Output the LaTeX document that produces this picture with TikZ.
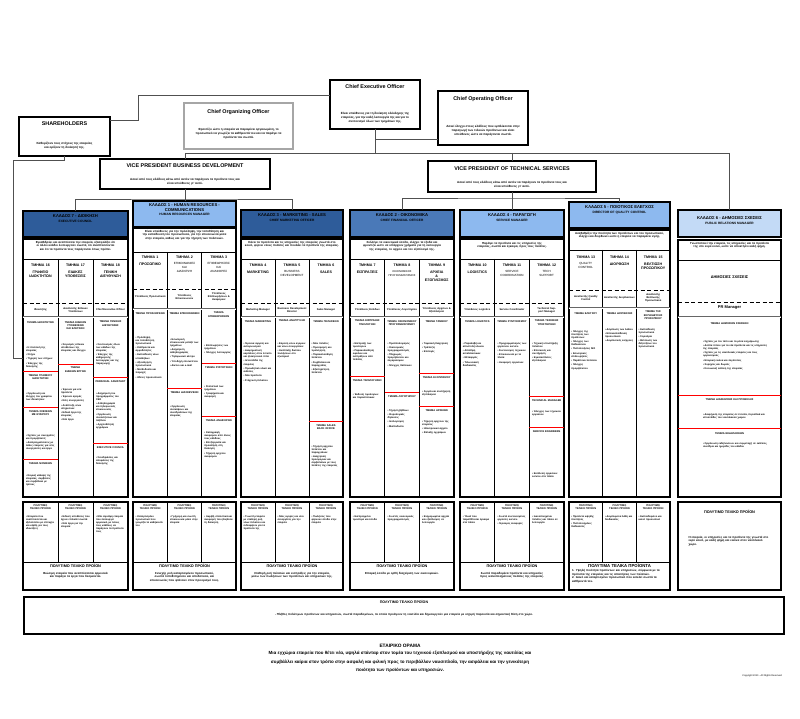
\documentclass[tikz,border=0pt]{standalone}
\usepackage{fontspec}
\setmainfont{Liberation Sans}
\usetikzlibrary{positioning,calc}
\definecolor{kldark}{HTML}{2E5C9A}
\definecolor{klmid}{HTML}{4A79B8}
\definecolor{kllight}{HTML}{8DB9EF}
\definecolor{klpale}{HTML}{C3DAF6}
\definecolor{linkgray}{HTML}{505050}
\tikzset{
	topbox/.style={draw, line width=1.3pt, fill=white, inner sep=0pt, outer sep=0pt, anchor=north west},
	link/.style={draw=linkgray, line width=0.8pt},
	boxtitle/.style={font=\fontsize{5.4}{6.4}\selectfont\bfseries, inner sep=0pt},
	boxtext/.style={font=\fontsize{3}{3.9}\selectfont\bfseries, align=center, inner sep=0pt},
	kladhead/.style={draw, line width=1.3pt, inner sep=0pt, outer sep=0pt, anchor=north west},
	kladtxt/.style={align=center, inner sep=0pt, font=\fontsize{4.2}{4.9}\selectfont\bfseries},
	kladbody/.style={draw, line width=1.3pt, fill=white, inner sep=0pt, outer sep=0pt, anchor=north west},
	gridline/.style={draw=black, line width=0.5pt},
	dashline/.style={draw=black, line width=0.8pt, dash pattern=on 4pt off 2.5pt},
	midline/.style={draw=black!60, line width=0.5pt, double=white, double distance=0.8pt},
	redline/.style={draw=red, line width=0.9pt},
	subhd/.style={anchor=north, align=center, inner sep=0pt, font=\fontsize{2.6}{3.1}\selectfont\bfseries},
	lst/.style={anchor=north, align=left, inner sep=0pt, font=\fontsize{2.5}{3.1}\selectfont\bfseries}
}
\newcounter{txt}
\newcommand{\shd}[4][31]{\stepcounter{txt}\node[subhd, text width=#1pt] (s\arabic{txt}) at (#2,#3) {#4};}
\newcommand{\bul}[4][29]{\stepcounter{txt}\node[lst, text width=#1pt] (l\arabic{txt}) at (#2,#3) {#4};}

\begin{document}
\begin{tikzpicture}[x=1pt, y=-1pt,
		dept/.style={anchor=north, align=center, text width=33pt, inner sep=0pt,
			font=\fontsize{3.6}{4.4}\selectfont\bfseries},
		mgr/.style={align=center, text width=32pt, inner sep=0pt,
			font=\fontsize{2.6}{3.2}\selectfont\bfseries},
		desc/.style={anchor=north, align=center, inner sep=0pt,
			font=\fontsize{2.9}{3.6}\selectfont\bfseries},
		prodhd/.style={anchor=north, align=center, inner sep=0pt,
			font=\fontsize{3.8}{4.6}\selectfont\bfseries},
		]
	\useasboundingbox[fill=white] (0,0) rectangle (800,719);
	
	%% -- top management
	\node[topbox, minimum width=91, minimum height=39] (share) at (19,117) {};
	\node[boxtitle, below=5pt of share.north] (shareT) {SHAREHOLDERS};
	\node[boxtext, above=7pt of share.south] (shareD)
	{Καθορίζουν τους στόχους της εταιρείας\\και ορίζουν τη διοίκησή της.};
	
	\node[topbox, minimum width=90, minimum height=49] (ceo) at (330,80) {};
	\node[boxtitle, below=4pt of ceo.north] (ceoT) {Chief Executive Officer};
	\node[boxtext, above=6pt of ceo.south] (ceoD)
	{Είναι υπεύθυνος για τη διοίκηση ολόκληρης της\\εταιρείας, για την καλή λειτουργία της και για το\\συντονισμό όλων των τμημάτων της.};
	
	\node[topbox, draw=black!35, minimum width=109, minimum height=46] (corg) at (184,103) {};
	\node[boxtitle, below=6pt of corg.north] (corgT) {Chief Organizing Officer};
	\node[boxtext, above=10pt of corg.south] (corgD)
	{Φροντίζει ώστε η εταιρεία να παραμένει οργανωμένη, το\\προσωπικό να γνωρίζει τα καθήκοντά του και να παράγει τα\\προϊόντα του σωστά.};
	
	\node[topbox, minimum width=90, minimum height=54] (coo) at (438,91) {};
	\node[boxtitle, below=5pt of coo.north] (cooT) {Chief Operating Officer};
	\node[boxtext, above=9pt of coo.south] (cooD)
	{Ασκεί έλεγχο στους κλάδους που εμπλέκονται στην\\παραγωγή των τελικών προϊόντων και είναι\\υπεύθυνος ώστε να παράγονται σωστά.};
	
	\node[topbox, minimum width=170, minimum height=30] (vpbd) at (100,159) {};
	\node[boxtitle, below=5pt of vpbd.north] (vpbdT) {VICE PRESIDENT BUSINESS DEVELOPMENT};
	\node[boxtext, above=4pt of vpbd.south] (vpbdD)
	{Ασκεί από τους κλάδους κάτω από αυτόν να παράγουν τα προϊόντα τους και\\είναι υπεύθυνος γι' αυτό.};
	
	\node[topbox, minimum width=168, minimum height=31] (vpts) at (428,161) {};
	\node[boxtitle, below=6pt of vpts.north] (vptsT) {VICE PRESIDENT OF TECHNICAL SERVICES};
	\node[boxtext, above=4pt of vpts.south] (vptsD)
	{Ασκεί από τους κλάδους κάτω από αυτόν να παράγουν τα προϊόντα τους και\\είναι υπεύθυνος γι' αυτό.};
	
	%% -- division headers
	\node[kladhead, fill=kldark, minimum width=105, minimum height=26] (h7) at (23,211) {};
	\node[kladtxt, below=3pt of h7.north] (h7t)
	{ΚΛΑΔΟΣ 7 - ΔΙΟΙΚΗΣΗ\\{\fontsize{3.2}{4}\selectfont EXECUTIVE COUNCIL}};
	\node[kladhead, fill=kllight, minimum width=103, minimum height=26] (h1) at (133,201) {};
	\node[kladtxt, below=2pt of h1.north] (h1t)
	{ΚΛΑΔΟΣ 1 - HUMAN RESOURCES -\\COMMUNICATIONS\\{\fontsize{3.2}{4}\selectfont HUMAN RESOURCES MANAGER}};
	\node[kladhead, fill=kldark, minimum width=102, minimum height=27] (h3) at (241,210) {};
	\node[kladtxt, below=3pt of h3.north] (h3t)
	{ΚΛΑΔΟΣ 3 - MARKETING - SALES\\{\fontsize{3.2}{4}\selectfont CHIEF MARKETING OFFICER}};
	\node[kladhead, fill=klmid, minimum width=104, minimum height=27] (h2) at (350,210) {};
	\node[kladtxt, below=3pt of h2.north] (h2t)
	{ΚΛΑΔΟΣ 2 - ΟΙΚΟΝΟΜΙΚΑ\\{\fontsize{3.2}{4}\selectfont CHIEF FINANCIAL OFFICER}};
	\node[kladhead, fill=kllight, minimum width=104, minimum height=27] (h4) at (460,210) {};
	\node[kladtxt, below=3pt of h4.north] (h4t)
	{ΚΛΑΔΟΣ 4 - ΠΑΡΑΓΩΓΗ\\{\fontsize{3.2}{4}\selectfont SERVICE MANAGER}};
	\node[kladhead, fill=kllight, minimum width=101, minimum height=26] (h5) at (569,202) {};
	\node[kladtxt, below=3pt of h5.north] (h5t)
	{ΚΛΑΔΟΣ 5 - ΠΟΙΟΤΙΚΟΣ ΕΛΕΓΧΟΣ\\{\fontsize{3.2}{4}\selectfont DIRECTOR OF QUALITY CONTROL}};
	\node[kladhead, fill=klpale, minimum width=103, minimum height=27] (h6) at (678,210) {};
	\node[kladtxt, below=6pt of h6.north] (h6t)
	{ΚΛΑΔΟΣ 6 - ΔΗΜΟΣΙΕΣ ΣΧΕΣΕΙΣ\\{\fontsize{3.2}{4}\selectfont PUBLIC RELATIONS MANAGER}};
	
	%% -- connectors
	\coordinate (shj) at (138,120);
	\coordinate (bus) at (375,153);
	\coordinate (cooj) at (375,139);
	\coordinate (shk) at (13,160);
	\coordinate (bdbus) at (185,199);
	\coordinate (tsbus) at (512,198);
	\draw[link] ([yshift=9.5pt]ceo.west) -| (shj) -- (shj -| share.east);
	\draw[link] (ceo.south) -- (bus);
	\draw[link] (cooj) -- (cooj -| coo.west);
	\draw[link] (vpbd.north |- bus) -- (h6.north |- bus);
	\draw[link] (vpbd.north |- bus) -- (vpbd.north);
	\draw[link] (vpts.north |- bus) -- (vpts.north);
	\draw[link] (h6.north |- bus) -- (h6.north);
	\draw[link] (vpbd.south) -- (vpbd.south |- h1.north);
	\draw[link] (h7.north) |- (bdbus) -| (h3.north);
	\draw[link] (vpts.south) -- (vpts.south |- h4.north);
	\draw[link] (h2.north) |- (tsbus) -| (h5.north);
	
	%% -- division bodies and product boxes
	\foreach \c/\xa/\xb/\yt/\yd/\ym/\ys in {7/23/128/239/259/303/317, 1/133/236/228/252/289/309,
		3/241/343/239/259/303/317, 2/350/454/239/259/303/317, 4/460/564/239/259/303/317,
		5/569/670/230/250/290/308}{
		\node[kladbody, minimum width=\xb-\xa, minimum height=497-\yt] (b\c) at (\xa,\yt) {};
		\draw[gridline] (\xa,\yd) -- (\xb,\yd);
		\draw[gridline] ({\xa+(\xb-\xa)/3},\yd) -- ({\xa+(\xb-\xa)/3},497);
		\draw[gridline] ({\xa+2*(\xb-\xa)/3},\yd) -- ({\xa+2*(\xb-\xa)/3},497);
		\draw[dashline] (\xa,\ym) -- (\xb,\ym);
		\draw[midline] (\xa,\ys) -- (\xb,\ys);
		\node[kladbody, minimum width=\xb-\xa, minimum height=88] (p\c) at (\xa,502) {};
		\draw[gridline] (\xa,562) -- (\xb,562);
		\draw[gridline] ({\xa+(\xb-\xa)/3},502) -- ({\xa+(\xb-\xa)/3},562);
		\draw[gridline] ({\xa+2*(\xb-\xa)/3},502) -- ({\xa+2*(\xb-\xa)/3},562);
	}
	\draw[link] (share.south) |- (shk) |- ([yshift=10pt]b7.west);
	
	\node[kladbody, minimum width=103, minimum height=257] (b6) at (678,240) {};
	\draw[gridline] ([yshift=-20pt]b6.north west) -- ([yshift=-20pt]b6.north east);
	\draw[dashline] ([yshift=-62pt]b6.north west) -- ([yshift=-62pt]b6.north east);
	\draw[midline] ([yshift=-77pt]b6.north west) -- ([yshift=-77pt]b6.north east);
	\node[kladbody, minimum width=103, minimum height=88] (p6) at (678,502) {};
	
	%% -- division descriptions
	\node[desc, text width=98pt, below=2pt of b7.north] (d7)
	{Εγκαθιδρύει και αναπτύσσει την εταιρεία, εξασφαλίζει ότι οι άλλοι κλάδοι λειτουργούν σωστά, ότι αναπτύσσονται και ότι τα προϊόντα τους παράγονται όπως πρέπει.};
	\node[desc, text width=97pt, below=2pt of b1.north] (d1)
	{Είναι υπεύθυνος για την πρόσληψη, την τοποθέτηση και την εκπαίδευση του προσωπικού, για την επικοινωνία μέσα στην εταιρεία, καθώς και για την τήρηση των πολιτικών.};
	\node[desc, text width=96pt, below=2pt of b3.north] (d3)
	{Κάνει τα προϊόντα και τις υπηρεσίες της εταιρείας γνωστά στο κοινό, φέρνει νέους πελάτες και πουλάει τα προϊόντα της εταιρείας.};
	\node[desc, text width=98pt, below=2pt of b2.north] (d2)
	{Συλλέγει τα οικονομικά έσοδα, ελέγχει τα έξοδα και φροντίζει ώστε να υπάρχουν χρήματα για τη λειτουργία της εταιρείας, το αρχείο και τον εξοπλισμό της.};
	\node[desc, text width=98pt, below=3pt of b4.north] (d4)
	{Παράγει τα προϊόντα και τις υπηρεσίες της εταιρείας, σωστά και έγκαιρα, προς τους πελάτες.};
	\node[desc, text width=95pt, below=2pt of b5.north] (d5)
	{Αναβαθμίζει την ποιότητα των προϊόντων και του προσωπικού, ελέγχει και διορθώνει ώστε η εταιρεία να παραμένει υγιής.};
	\node[desc, text width=95pt, below=2pt of b6.north] (d6)
	{Γνωστοποιεί την εταιρεία, τις υπηρεσίες και τα προϊόντα της στο ευρύ κοινό, ώστε να αποκτήσει καλή φήμη.};
	
	%% -- departments
	\node[dept] (t16) at (40.5,264) {ΤΜΗΜΑ 16\\[2pt]ΓΡΑΦΕΙΟ\\ΙΔΙΟΚΤΗΤΩΝ};
	\node[dept] (t17) at (75.5,264) {ΤΜΗΜΑ 17\\[2pt]ΕΙΔΙΚΕΣ\\ΥΠΟΘΕΣΕΙΣ};
	\node[dept] (t18) at (110.5,264) {ΤΜΗΜΑ 18\\[2pt]ΓΕΝΙΚΗ\\ΔΙΕΥΘΥΝΣΗ};
	\node[dept] (t1) at (150.2,256) {ΤΜΗΜΑ 1\\[2pt]ΠΡΟΣΩΠΙΚΟ};
	\node[dept] (t2) at (184.5,256) {ΤΜΗΜΑ 2\\[2pt]\mdseries\fontsize{3}{3.7}\selectfont ΕΠΙΚΟΙΝΩΝΙΕΣ\\ΚΑΙ\\ΔΙΑΣΚΕΨΗ};
	\node[dept] (t3) at (218.8,256) {ΤΜΗΜΑ 3\\[2pt]\mdseries\fontsize{3}{3.7}\selectfont ΕΠΙΘΕΩΡΗΣΕΙΣ\\ΚΑΙ\\ΑΝΑΦΟΡΕΣ};
	\node[dept] (t4) at (258,264) {ΤΜΗΜΑ 4\\[2pt]MARKETING};
	\node[dept] (t5) at (292,264) {ΤΜΗΜΑ 5\\[2pt]\mdseries\fontsize{3}{3.7}\selectfont BUSINESS\\DEVELOPMENT};
	\node[dept] (t6) at (326,264) {ΤΜΗΜΑ 6\\[2pt]SALES};
	\node[dept] (t7) at (367.3,264) {ΤΜΗΜΑ 7\\[2pt]ΕΙΣΠΡΑΞΕΙΣ};
	\node[dept] (t8) at (402,264) {ΤΜΗΜΑ 8\\[2pt]\mdseries\fontsize{2.7}{3.4}\selectfont ΟΙΚΟΝΟΜΙΚΟΣ\\ΠΡΟΓΡΑΜΜΑΤΙΣΜΟΣ};
	\node[dept] (t9) at (436.7,264) {ΤΜΗΜΑ 9\\[2pt]ΑΡΧΕΙΑ\\\&\\ΕΞΟΠΛΙΣΜΟΣ};
	\node[dept] (t10) at (477.3,264) {ΤΜΗΜΑ 10\\[2pt]LOGISTICS};
	\node[dept] (t11) at (512,264) {ΤΜΗΜΑ 11\\[2pt]\mdseries\fontsize{3}{3.7}\selectfont SERVICE\\COORDINATION};
	\node[dept] (t12) at (546.7,264) {ΤΜΗΜΑ 12\\[2pt]\mdseries\fontsize{3}{3.7}\selectfont TECH\\SUPPORT};
	\node[dept] (t13) at (585.8,256) {ΤΜΗΜΑ 13\\[2pt]\mdseries\fontsize{3}{3.7}\selectfont QUALITY\\CONTROL};
	\node[dept] (t14) at (619.5,256) {ΤΜΗΜΑ 14\\[2pt]ΔΙΟΡΘΩΣΗ};
	\node[dept] (t15) at (653.2,256) {ΤΜΗΜΑ 15\\[2pt]ΒΕΛΤΙΩΣΗ\\ΠΡΟΣΩΠΙΚΟΥ};
	\node[dept, text width=90pt, font=\fontsize{3.9}{4.6}\selectfont\bfseries] (tpr) at (729.5,276) {ΔΗΜΟΣΙΕΣ ΣΧΕΣΕΙΣ};
	
	%% -- managers
	\node[mgr] (m16) at (40.5,310) {Ιδιοκτήτης};
	\node[mgr] (m17) at (75.5,310) {Διευθυντής Ειδικών\\Υποθέσεων};
	\node[mgr] (m18) at (110.5,310) {Chief Executive Officer};
	\node[mgr] (m1) at (150.2,297) {Υπεύθυνος Προσωπικού};
	\node[mgr] (m2) at (184.5,297) {Υπεύθυνος\\Επικοινωνιών};
	\node[mgr] (m3) at (218.8,297) {Υπεύθυνος\\Επιθεωρήσεων \&\\Αναφορών};
	\node[mgr] (m4) at (258,310) {Marketing Manager};
	\node[mgr] (m5) at (292,310) {Business Development\\Director};
	\node[mgr] (m6) at (326,310) {Sales Manager};
	\node[mgr] (m7) at (367.3,310) {Υπεύθυνος Εσόδων};
	\node[mgr] (m8) at (402,310) {Υπεύθυνος Λογιστηρίου};
	\node[mgr] (m9) at (436.7,310) {Υπεύθυνος Αρχείων \&\\Εξοπλισμού};
	\node[mgr] (m10) at (477.3,310) {Υπεύθυνος Logistics};
	\node[mgr] (m11) at (512,310) {Service Coordinator};
	\node[mgr] (m12) at (546.7,310) {Technical Support Manager};
	\node[mgr] (m13) at (585.8,298) {Διευθυντής Quality\\Control};
	\node[mgr] (m14) at (619.5,298) {Διευθυντής Διορθώσεων};
	\node[mgr] (m15) at (653.2,298) {Διευθυντής\\Βελτίωσης\\Προσωπικού};
	\node[mgr, text width=80pt, font=\fontsize{4}{4.8}\selectfont\bfseries] (mpr) at (729.5,308) {PR Manager};
	
	%% -- ΚΛΑΔΟΣ 7 sections
	\shd{40.5}{321}{ΤΜΗΜΑ ΙΔΙΟΚΤΗΤΩΝ}
	\bul{40.5}{346}{• Η πολιτική της εταιρείας\\[1.2pt]• Στόχοι\\[1.2pt]• Τήρηση των στόχων\\[1.2pt]• Έλεγχος της διοίκησης}
	\draw[redline] (23,371) -- (58,371);
	\shd{40.5}{374}{ΤΜΗΜΑ ΓΡΑΦΕΙΟΥ ΙΔΙΟΚΤΗΤΩΝ}
	\bul{40.5}{392}{• Οργάνωση και έλεγχος του γραφείου των ιδιοκτητών}
	\draw[redline] (23,407) -- (58,407);
	\shd{40.5}{410}{ΤΜΗΜΑ ΣΧΕΣΕΩΝ ΜΕ ΕΤΑΙΡΟΥΣ}
	\bul{40.5}{434}{• Σχέσεις με συνεργάτες και προμηθευτές\\[1.2pt]• Διαπραγματεύσεις με άλλες εταιρείες για νέες συνεργασίες και έργα}
	\draw[redline] (23,459) -- (58,459);
	\shd{40.5}{462}{ΤΜΗΜΑ ΝΟΜΙΚΩΝ}
	\bul{40.5}{474}{• Νομική κάλυψη της εταιρείας, συμβάσεις και συμβόλαια με τρίτους}
	
	\shd{75.5}{321}{ΤΜΗΜΑ ΕΙΔΙΚΩΝ ΥΠΟΘΕΣΕΩΝ ΚΑΙ ΕΛΕΓΧΩΝ}
	\bul{75.5}{343}{• Χειρισμός ειδικών υποθέσεων της εταιρείας και έλεγχοι}
	\draw[redline] (58,364) -- (93,364);
	\shd{75.5}{367}{ΤΜΗΜΑ ΕΙΔΙΚΩΝ ΕΡΓΩΝ}
	\bul{75.5}{388}{• Έρευνα για νέα προϊόντα\\[1.2pt]• Έρευνα αγοράς\\[1.2pt]• Νέες συνεργασίες\\[1.2pt]• Ανάπτυξη νέων υπηρεσιών\\[1.2pt]• Ειδικά έργα της εταιρείας\\[1.2pt]• Νέα έργα}
	
	\shd{110.5}{321}{ΤΜΗΜΑ ΓΕΝΙΚΗΣ ΔΙΕΥΘΥΝΣΗΣ}
	\bul{110.5}{343}{• Συντονισμός όλων των κλάδων της εταιρείας\\[1.2pt]• Έλεγχος της καθημερινής λειτουργίας και της παραγωγής}
	\draw[redline] (93,377) -- (128,377);
	\shd{110.5}{380}{PERSONAL ASSISTANT}
	\bul{110.5}{392}{• Διαχείριση του προγράμματος του CEO\\[1.2pt]• Αλληλογραφία και τηλεφωνικές επικοινωνίες\\[1.2pt]• Οργάνωση συναντήσεων και ταξιδιών\\[1.2pt]• Αρχειοθέτηση εγγράφων}
	\draw[redline] (93,443) -- (128,443);
	\shd{110.5}{446}{EXECUTIVE COUNCIL}
	\bul{110.5}{456}{• Συνεδριάσεις και αποφάσεις της διοίκησης}
	
	%% -- ΚΛΑΔΟΣ 1 sections
	\shd{150.2}{312}{ΤΜΗΜΑ ΠΡΟΣΛΗΨΕΩΝ}
	\bul{150.2}{336}{• Πρόσληψη και τοποθέτηση προσωπικού\\[1.2pt]• Καθήκοντα και αρμοδιότητες\\[1.2pt]• Εκπαίδευση νέων υπαλλήλων\\[1.2pt]• Αξιολόγηση προσωπικού\\[1.2pt]• Μισθοδοσία και παροχές\\[1.2pt]• Άδειες προσωπικού}
	\shd{184.5}{312}{ΤΜΗΜΑ ΕΠΙΚΟΙΝΩΝΙΩΝ}
	\bul{184.5}{338}{• Εσωτερική επικοινωνία μεταξύ των τμημάτων\\[1.2pt]• Διαχείριση αλληλογραφίας\\[1.2pt]• Τηλεφωνικό κέντρο\\[1.2pt]• Υποδοχή επισκεπτών\\[1.2pt]• Δίκτυο και e-mail}
	\draw[redline] (167.3,388) -- (201.7,388);
	\shd{184.5}{391}{ΤΜΗΜΑ ΔΙΑΣΚΕΨΕΩΝ}
	\bul{184.5}{405}{• Οργάνωση συσκέψεων και συνεδριάσεων της εταιρείας}
	\shd{218.8}{312}{ΤΜΗΜΑ ΕΠΙΘΕΩΡΗΣΕΩΝ}
	\bul{218.8}{344}{• Επιθεωρήσεις των τμημάτων\\[1.2pt]• Έλεγχος λειτουργίας}
	\draw[redline] (201.7,363) -- (236,363);
	\shd{218.8}{366}{ΤΜΗΜΑ ΣΤΑΤΙΣΤΙΚΩΝ}
	\bul{218.8}{385}{• Στατιστικά των τμημάτων\\[1.2pt]• Γραφήματα και αναφορές}
	\draw[redline] (201.7,416) -- (236,416);
	\shd{218.8}{419}{ΤΜΗΜΑ ΑΝΑΦΟΡΩΝ}
	\bul{218.8}{431}{• Καταγραφή αναφορών από όλους τους κλάδους\\[1.2pt]• Επεξεργασία και προώθηση στη διοίκηση\\[1.2pt]• Τήρηση αρχείου αναφορών}
	
	%% -- ΚΛΑΔΟΣ 3 sections
	\shd{258}{320}{ΤΜΗΜΑ MARKETING}
	\bul{258}{342}{• Έρευνα αγοράς και ανταγωνισμού\\[1.2pt]• Διαφημιστικές καμπάνιες στον έντυπο και ηλεκτρονικό τύπο\\[1.2pt]• Ιστοσελίδα της εταιρείας\\[1.2pt]• Προωθητικό υλικό και εκθέσεις\\[1.2pt]• Νέα προϊόντα\\[1.2pt]• Στόχευση πελατών}
	\shd{292}{320}{ΤΜΗΜΑ ΑΝΑΠΤΥΞΗΣ}
	\bul{292}{342}{• Εύρεση νέων αγορών και νέων συνεργατών\\[1.2pt]• Ανάπτυξη δικτύου πωλήσεων στο εξωτερικό}
	\shd{326}{320}{ΤΜΗΜΑ ΠΩΛΗΣΕΩΝ}
	\bul{326}{342}{• Νέοι πελάτες\\[1.2pt]• Προσφορές και τιμολόγηση\\[1.2pt]• Παρακολούθηση πελατών\\[1.2pt]• Συμβόλαια και παραγγελίες\\[1.2pt]• Εξυπηρέτηση πελατών}
	\draw[redline] (309,421) -- (343,421);
	\shd{326}{424}{ΤΜΗΜΑ SALES BACK OFFICE}
	\bul{326}{445}{• Τήρηση αρχείου πελατών και παραγγελιών\\[1.2pt]• Διαχείριση προσφορών και συμβολαίων με τους πελάτες της εταιρείας}
	
	%% -- ΚΛΑΔΟΣ 2 sections
	\shd{367.3}{320}{ΤΜΗΜΑ ΕΙΣΠΡΑΞΗΣ ΤΙΜΟΛΟΓΙΩΝ}
	\bul{367.3}{342}{• Είσπραξη των τιμολογίων\\[1.2pt]• Παρακολούθηση οφειλών και εισπράξεων από πελάτες}
	\draw[redline] (350,376) -- (384.7,376);
	\shd{367.3}{379}{ΤΜΗΜΑ ΤΙΜΟΛΟΓΗΣΗΣ}
	\bul{367.3}{393}{• Έκδοση τιμολογίων και παραστατικών}
	\shd{402}{320}{ΤΜΗΜΑ ΟΙΚΟΝΟΜΙΚΟΥ ΠΡΟΓΡΑΜΜΑΤΙΣΜΟΥ}
	\bul{402}{342}{• Προϋπολογισμός\\[1.2pt]• Οικονομικός προγραμματισμός\\[1.2pt]• Πληρωμές προμηθευτών και λογαριασμών\\[1.2pt]• Έλεγχος δαπανών}
	\draw[redline] (384.7,392) -- (419.3,392);
	\shd{402}{395}{ΤΜΗΜΑ ΛΟΓΙΣΤΗΡΙΟΥ}
	\bul{402}{409}{• Τήρηση βιβλίων\\[1.2pt]• Φορολογικές δηλώσεις\\[1.2pt]• Ισολογισμός\\[1.2pt]• Μισθοδοσία}
	\shd{436.7}{320}{ΤΜΗΜΑ ΤΑΜΕΙΟΥ}
	\bul{436.7}{342}{• Ταμειακή διαχείριση\\[1.2pt]• Τράπεζες\\[1.2pt]• Επιταγές}
	\draw[redline] (419.3,373) -- (454,373);
	\shd{436.7}{376}{ΤΜΗΜΑ ΕΞΟΠΛΙΣΜΟΥ}
	\bul{436.7}{390}{• Αγορά και συντήρηση εξοπλισμού}
	\draw[redline] (419.3,406) -- (454,406);
	\shd{436.7}{409}{ΤΜΗΜΑ ΑΡΧΕΙΩΝ}
	\bul{436.7}{420}{• Τήρηση αρχείων της εταιρείας\\[1.2pt]• Ηλεκτρονικό αρχείο\\[1.2pt]• Φύλαξη εγγράφων}
	
	%% -- ΚΛΑΔΟΣ 4 sections
	\shd{477.3}{320}{ΤΜΗΜΑ LOGISTICS}
	\bul{477.3}{342}{• Παραλαβή και αποστολή υλικών\\[1.2pt]• Αποθήκη ανταλλακτικών\\[1.2pt]• Μεταφορές\\[1.2pt]• Τελωνειακές διαδικασίες}
	\shd{512}{320}{ΤΜΗΜΑ ΣΥΝΤΟΝΙΣΜΟΥ}
	\bul{512}{342}{• Προγραμματισμός των εργασιών service\\[1.2pt]• Συντονισμός τεχνικών\\[1.2pt]• Επικοινωνία με τα πλοία\\[1.2pt]• Αναφορές εργασιών}
	\shd{546.7}{320}{ΤΜΗΜΑ ΤΕΧΝΙΚΗΣ ΥΠΟΣΤΗΡΙΞΗΣ}
	\bul{546.7}{342}{• Τεχνική υποστήριξη πελατών\\[1.2pt]• Επισκευές και συντήρηση\\[1.2pt]• Εγκαταστάσεις εξοπλισμού}
	\draw[redline] (529.3,396) -- (564,396);
	\shd{546.7}{399}{TECHNICAL MANAGER}
	\bul{546.7}{410}{• Έλεγχος των τεχνικών εργασιών}
	\draw[redline] (529.3,427) -- (564,427);
	\shd{546.7}{430}{SERVICE ENGINEERS}
	\bul{546.7}{472}{• Εκτέλεση εργασιών service στα πλοία}
	
	%% -- ΚΛΑΔΟΣ 5 sections
	\shd{585.8}{312}{ΤΜΗΜΑ ΕΛΕΓΧΟΥ}
	\bul{585.8}{330}{• Έλεγχος της ποιότητας των προϊόντων\\[1.2pt]• Έλεγχος των διαδικασιών\\[1.2pt]• Πιστοποιήσεις ISO\\[1.2pt]• Εσωτερικές επιθεωρήσεις\\[1.2pt]• Παράπονα πελατών\\[1.2pt]• Έλεγχος προμηθευτών}
	\shd{619.5}{312}{ΤΜΗΜΑ ΔΙΟΡΘΩΣΗΣ}
	\bul{619.5}{328}{• Διόρθωση των λαθών\\[1.2pt]• Επανεκπαίδευση προσωπικού\\[1.2pt]• Διορθωτικές ενέργειες}
	\shd{653.2}{311}{ΤΜΗΜΑ ΤΗΣ ΕΚΠΑΙΔΕΥΣΗΣ ΠΡΟΣΩΠΙΚΟΥ}
	\bul{653.2}{328}{• Εκπαίδευση προσωπικού\\[1.2pt]• Σεμινάρια\\[1.2pt]• Βελτίωση των δεξιοτήτων του προσωπικού}
	
	%% -- ΚΛΑΔΟΣ 6 sections
	\shd[80]{729.5}{322}{ΤΜΗΜΑ ΔΗΜΟΣΙΩΝ ΣΧΕΣΕΩΝ}
	\bul[68]{737}{340}{• Σχέσεις με τον τύπο και τα μέσα ενημέρωσης\\[1.2pt]• Δελτία τύπου για τα νέα προϊόντα και τις υπηρεσίες της εταιρείας\\[1.2pt]• Σχέσεις με τις ναυτιλιακές εταιρείες και τους οργανισμούς\\[1.2pt]• Εταιρική εικόνα και λογότυπος\\[1.2pt]• Χορηγίες και δωρεές\\[1.2pt]• Κοινωνική ευθύνη της εταιρείας}
	\draw[redline] (678,395) -- (781,395);
	\shd[80]{729.5}{398}{ΤΜΗΜΑ ΔΙΑΦΗΜΙΣΗΣ ΚΑΙ ΠΡΟΒΟΛΗΣ}
	\bul[68]{737}{413}{• Διαφήμιση της εταιρείας σε έντυπα, περιοδικά και ιστοσελίδες του ναυτιλιακού χώρου}
	\draw[redline] (678,428) -- (781,428);
	\shd[80]{729.5}{432}{ΤΜΗΜΑ ΕΚΔΗΛΩΣΕΩΝ}
	\bul[68]{737}{442}{• Οργάνωση εκδηλώσεων και συμμετοχή σε εκθέσεις, συνέδρια και ημερίδες του κλάδου}
	
	%% -- valuable final products
	\foreach \x in {40.5,75.5,110.5,150.2,184.5,218.8,258,292,326,367.3,402,436.7,477.3,512,546.7,585.8,619.5,653.2}{
		\shd{\x}{504}{ΠΟΛΥΤΙΜΟ\\ΤΕΛΙΚΟ ΠΡΟΪΟΝ}
	}
	\bul{40.5}{515}{• Εταιρεία που αναπτύσσεται και εξελίσσεται με επιτυχία και κέρδη για τους ιδιοκτήτες}
	\bul{75.5}{515}{• Ειδικές υποθέσεις που έχουν επιλυθεί σωστά\\[1.2pt]• Νέα έργα για την εταιρεία}
	\bul{110.5}{515}{• Μία εύρυθμη εταιρεία που λειτουργεί αρμονικά, με όλους τους κλάδους να παράγουν τα προϊόντα τους}
	\bul{150.2}{515}{• Καταρτισμένο προσωπικό που γνωρίζει τα καθήκοντά του}
	\bul{184.5}{515}{• Γρήγορη και σωστή επικοινωνία μέσα στην εταιρεία}
	\bul{218.8}{515}{• Ακριβή στατιστικά και αναφορές που βοηθούν τη διοίκηση}
	\bul{258}{515}{• Γνωστή εταιρεία με σταθερή ροή νέων πελατών και ενδιαφέρον για τα προϊόντα της}
	\bul{292}{515}{• Νέες αγορές και νέοι συνεργάτες για την εταιρεία}
	\bul{326}{515}{• Πωλήσεις που φέρνουν έσοδα στην εταιρεία}
	\bul{367.3}{515}{• Εισπραγμένα τιμολόγια και έσοδα}
	\bul{402}{515}{• Σωστός οικονομικός προγραμματισμός}
	\bul{436.7}{515}{• Ενημερωμένα αρχεία και εξοπλισμός σε λειτουργία}
	\bul{477.3}{515}{• Υλικά που παραδίδονται έγκαιρα στα πλοία}
	\bul{512}{515}{• Σωστά συντονισμένες εργασίες service\\[1.2pt]• Έγκαιρες αναφορές}
	\bul{546.7}{515}{• Ικανοποιημένοι πελάτες και πλοία σε λειτουργία}
	\bul{585.8}{515}{• Προϊόντα υψηλής ποιότητας\\[1.2pt]• Πιστοποιημένες διαδικασίες}
	\bul{619.5}{515}{• Διορθωμένα λάθη και διαδικασίες}
	\bul{653.2}{515}{• Εκπαιδευμένο και ικανό προσωπικό}
	
	\node[prodhd] (pt7) at ([yshift=26pt]p7.south) {ΠΟΛΥΤΙΜΟ ΤΕΛΙΚΟ ΠΡΟΪΟΝ};
	\node[desc, text width=90pt, below=4pt of pt7] (pd7) {Βιώσιμη εταιρεία που αναπτύσσεται αρμονικά και παράγει τα έργα που δεσμεύεται.};
	\node[prodhd] (pt1) at ([yshift=26pt]p1.south) {ΠΟΛΥΤΙΜΟ ΤΕΛΙΚΟ ΠΡΟΪΟΝ};
	\node[desc, text width=92pt, below=4pt of pt1] (pd1) {Συνεχής ροή καταρτισμένου προσωπικού, σωστά τοποθετημένου και αποδοτικού, και επικοινωνίες που φτάνουν στον προορισμό τους.};
	\node[prodhd] (pt3) at ([yshift=26pt]p3.south) {ΠΟΛΥΤΙΜΟ ΤΕΛΙΚΟ ΠΡΟΪΟΝ};
	\node[desc, text width=90pt, below=4pt of pt3] (pd3) {Σταθερή ροή πελατών και εισπράξεις για την εταιρεία, μέσω των πωλήσεων των προϊόντων και υπηρεσιών της.};
	\node[prodhd] (pt2) at ([yshift=26pt]p2.south) {ΠΟΛΥΤΙΜΟ ΤΕΛΙΚΟ ΠΡΟΪΟΝ};
	\node[desc, text width=92pt, below=4pt of pt2] (pd2) {Επαρκή έσοδα με ορθή διαχείριση των οικονομικών.};
	\node[prodhd] (pt4) at ([yshift=26pt]p4.south) {ΠΟΛΥΤΙΜΟ ΤΕΛΙΚΟ ΠΡΟΪΟΝ};
	\node[desc, text width=92pt, below=4pt of pt4] (pd4) {Σωστά παραδομένα προϊόντα και υπηρεσίες προς ικανοποιημένους πελάτες της εταιρείας.};
	\node[prodhd, font=\fontsize{4.3}{5}\selectfont\bfseries] (pt5) at ([yshift=26pt]p5.south) {ΠΟΛΥΤΙΜΑ ΤΕΛΙΚΑ ΠΡΟΪΟΝΤΑ};
	\node[desc, align=left, text width=95pt, below=1pt of pt5] (pd5) {1. Υψηλή ποιότητα προϊόντων και υπηρεσιών, σύμφωνα με τα πρότυπα της εταιρείας και τις απαιτήσεις των πελατών.\\2. Ικανό και καταρτισμένο προσωπικό που εκτελεί σωστά τα καθήκοντά του.};
	\node[prodhd, below=8pt of p6.north] (pt6) {ΠΟΛΥΤΙΜΟ ΤΕΛΙΚΟ ΠΡΟΪΟΝ};
	\node[desc, align=left, text width=82pt, below=22pt of pt6] (pd6) {Η εταιρεία, οι υπηρεσίες και τα προϊόντα της γνωστά στο ευρύ κοινό, με καλή φήμη και εικόνα στον ναυτιλιακό χώρο.};
	
	%% -- whole company product and vision
	\node[kladbody, minimum width=760, minimum height=37] (allprod) at (24,597) {};
	\node[prodhd, font=\fontsize{3.6}{4.3}\selectfont\bfseries, below=3pt of allprod.north] (allT) {ΠΟΛΥΤΙΜΟ ΤΕΛΙΚΟ ΠΡΟΪΟΝ};
	\node[desc, text width=700pt, below=10pt of allT] (allD) {- Πλήθος πολύτιμων προϊόντων και υπηρεσιών, σωστά παραδομένων, τα οποία προάγουν τη ναυτιλία και δημιουργούν μια εταιρεία με ισχυρή παρουσία και σημαντική θέση στο χώρο.};
	
	\node[font=\fontsize{4.8}{5.6}\selectfont\bfseries, inner sep=0pt] (visT) at (400,646) {ΕΤΑΙΡΙΚΟ ΟΡΑΜΑ};
	\node[font=\fontsize{4.5}{8.6}\selectfont\bfseries, align=center, inner sep=0pt, below=3pt of visT] (visD)
	{Μια εγχώρια εταιρεία που θέτει νέα, υψηλά στάνταρ στον τομέα του τεχνικού εξοπλισμού και υποστήριξης της ναυτιλίας και\\
		συμβάλλει καίρια στον τρόπο στην ασφαλή και φιλική προς το περιβάλλον ναυσιπλοΐα, την ασφάλεια και την γενικότερη\\
		ποιότητα των προϊόντων και υπηρεσιών.};
	\node[font=\fontsize{2.4}{3}\selectfont, inner sep=0pt] (copy) at (762,676) {Copyright 2010 - All Rights Reserved};
	
\end{tikzpicture}
\end{document}
